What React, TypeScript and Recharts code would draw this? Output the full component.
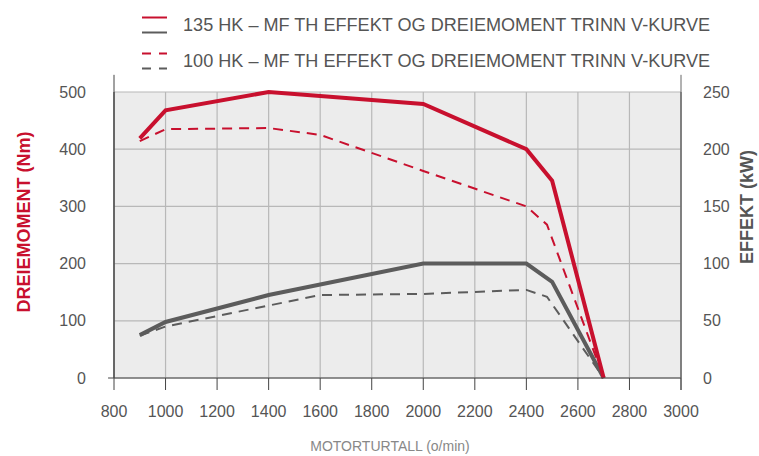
import React from 'react';
import { LineChart, Line, XAxis, YAxis, CartesianGrid, ReferenceLine, Label } from 'recharts';

// motor speed ticks (o/min)
const RPM_TICKS = [800, 1000, 1200, 1400, 1600, 1800, 2000, 2200, 2400, 2600, 2800, 3000];
const NM_TICKS = [0, 100, 200, 300, 400, 500];
const KW_TICKS = [0, 50, 100, 150, 200, 250];

// 135 HK
const RPM_135_NM = [900, 1000, 1400, 2000, 2400, 2500, 2700];
const NM_135 = [419, 468, 500, 479, 400, 345, 0];
const RPM_135_KW = [900, 1000, 1400, 2000, 2400, 2500, 2700];
const KW_135 = [37.5, 49, 72.5, 100, 100, 84, 0];

// 100 HK
const RPM_100_NM = [900, 1000, 1400, 1600, 2000, 2400, 2480, 2700];
const NM_100 = [414, 435, 437, 425, 362, 300, 268, 0];
const RPM_100_KW = [900, 1000, 1600, 2000, 2400, 2480, 2700];
const KW_100 = [37, 45, 72.5, 73.5, 77, 71, 0];

const LEGEND = [
  '135 HK – MF TH EFFEKT OG DREIEMOMENT TRINN V-KURVE',
  '100 HK – MF TH EFFEKT OG DREIEMOMENT TRINN V-KURVE',
];

const RED = '#c8102e';
const GREY = '#5c5c5c';
const FONT = '"Liberation Sans", Arial, sans-serif';

const zip = (xs: number[], ys: number[]) => xs.map((rpm, i) => ({ rpm, v: ys[i] }));

const torque135 = zip(RPM_135_NM, NM_135);
const torque100 = zip(RPM_100_NM, NM_100);
const power135 = zip(RPM_135_KW, KW_135);
const power100 = zip(RPM_100_KW, KW_100);

const tickStyle = { fontSize: 16, fill: '#555', fontFamily: FONT };

const LegendBox = () => (
  <svg width={759} height={80} style={{ position: 'absolute', left: 0, top: 0 }}>
    <line x1={142} x2={167} y1={17.5} y2={17.5} stroke={RED} strokeWidth={2} />
    <line x1={142} x2={167} y1={32.5} y2={32.5} stroke={GREY} strokeWidth={2} />
    <text x={183} y={31} fontSize={18.1} fill="#555" fontFamily={FONT}>{LEGEND[0]}</text>
    <line x1={142} x2={167} y1={53.5} y2={53.5} stroke={RED} strokeWidth={2} strokeDasharray="9 8" />
    <line x1={142} x2={167} y1={68.5} y2={68.5} stroke={GREY} strokeWidth={2} strokeDasharray="9 8" />
    <text x={183} y={67} fontSize={18.1} fill="#555" fontFamily={FONT}>{LEGEND[1]}</text>
  </svg>
);

export default function App() {
  return (
    <div style={{ position: 'absolute', left: 0, top: 0, width: 759, height: 456, background: '#fff' }}>
      <LineChart
        width={759}
        height={456}
        margin={{ top: 92, right: 18, bottom: 28, left: 50 }}
      >
        <CartesianGrid fill="#ececec" stroke="#b8b8b8" strokeWidth={1.2} yAxisId="left" />
        <XAxis
          dataKey="rpm"
          type="number"
          domain={[800, 3000]}
          ticks={RPM_TICKS}
          allowDataOverflow
          height={50}
          tickSize={12}
          tickMargin={16}
          tick={tickStyle}
          stroke="#444"
          tickLine={{ stroke: '#444' }}
        >
          <Label
            content={() => (
              <text x={390} y={451} textAnchor="middle" fontSize={14} fill="#888" fontFamily={FONT}>
                MOTORTURTALL (o/min)
              </text>
            )}
          />
        </XAxis>
        <YAxis
          yAxisId="left"
          domain={[0, 500]}
          ticks={NM_TICKS}
          width={64}
          tickLine={false}
          tickMargin={22}
          tick={tickStyle}
          stroke="#444"
        >
          <Label
            content={() => (
              <text
                x={0}
                y={0}
                transform="translate(30 222) rotate(-90)"
                textAnchor="middle"
                fontSize={18}
                fontWeight="bold"
                fill={RED}
                fontFamily={FONT}
              >
                DREIEMOMENT (Nm)
              </text>
            )}
          />
        </YAxis>
        <YAxis
          yAxisId="right"
          orientation="right"
          domain={[0, 250]}
          ticks={KW_TICKS}
          width={60}
          tickLine={false}
          tickMargin={16}
          tick={tickStyle}
          stroke="#666"
        >
          <Label
            content={() => (
              <text
                x={0}
                y={0}
                transform="translate(753 207) rotate(-90)"
                textAnchor="middle"
                fontSize={18}
                fontWeight="bold"
                fill="#555"
                fontFamily={FONT}
              >
                EFFEKT (kW)
              </text>
            )}
          />
        </YAxis>
        <ReferenceLine
          yAxisId="left"
          segment={[{ x: 800, y: 0 }, { x: 800, y: 530 }]}
          ifOverflow="visible"
          stroke="#444"
        />
        <ReferenceLine
          yAxisId="left"
          segment={[{ x: 777, y: 0 }, { x: 800, y: 0 }]}
          ifOverflow="visible"
          stroke="#444"
        />
        <ReferenceLine
          yAxisId="left"
          segment={[{ x: 3000, y: -21 }, { x: 3000, y: 530 }]}
          ifOverflow="visible"
          stroke="#666"
        />
        <Line
          yAxisId="right"
          data={power100}
          dataKey="v"
          stroke={GREY}
          strokeWidth={2}
          strokeDasharray="10 7"
          dot={false}
          isAnimationActive={false}
        />
        <Line
          yAxisId="left"
          data={torque100}
          dataKey="v"
          stroke={RED}
          strokeWidth={2}
          strokeDasharray="10 7"
          dot={false}
          isAnimationActive={false}
        />
        <Line
          yAxisId="right"
          data={power135}
          dataKey="v"
          stroke={GREY}
          strokeWidth={4}
          dot={false}
          isAnimationActive={false}
        />
        <Line
          yAxisId="left"
          data={torque135}
          dataKey="v"
          stroke={RED}
          strokeWidth={4}
          dot={false}
          isAnimationActive={false}
        />
      </LineChart>
      <LegendBox />
    </div>
  );
}
